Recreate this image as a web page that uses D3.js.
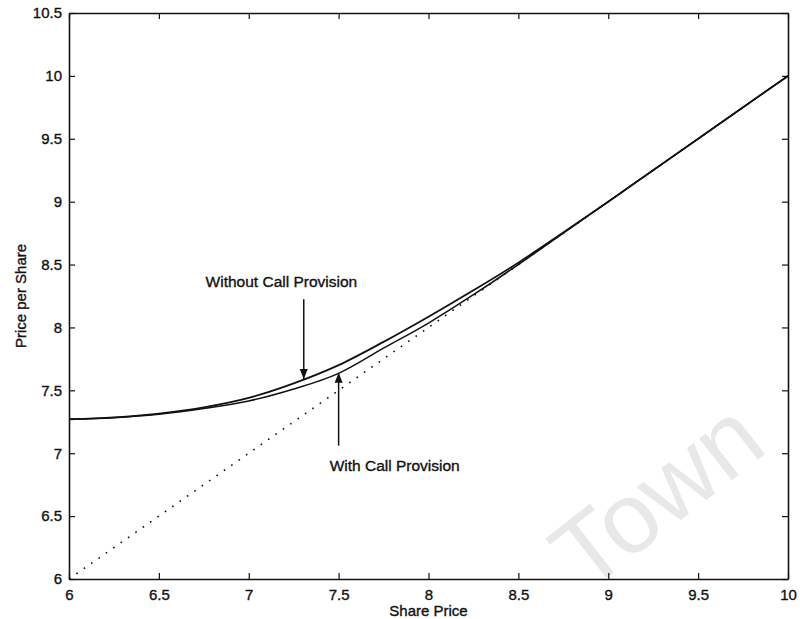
<!DOCTYPE html>
<html>
<head>
<meta charset="utf-8">
<script src="https://cdn.jsdelivr.net/npm/d3@7"></script>
<style>
  html, body { margin: 0; padding: 0; background: #fff; }
  svg { display: block; }
  text { font-family: "Liberation Sans", Arial, Helvetica, sans-serif; fill: #111; }
  .lbl { stroke: #111; stroke-width: 0.35px; }
</style>
</head>
<body>
<svg id="chart" width="800" height="619"></svg>
<script>
// ---- data ----
const sharePrice = [6, 6.25, 6.5, 6.75, 7, 7.25, 7.5, 7.75, 8, 8.25, 8.5, 8.75, 9, 9.25, 9.5, 9.75, 10];
const withoutCall = [7.27, 7.285, 7.315, 7.365, 7.44, 7.555, 7.70, 7.885, 8.085, 8.295, 8.515, 8.755, 9.0, 9.25, 9.5, 9.75, 10];
const withCall    = [7.27, 7.283, 7.31, 7.355, 7.415, 7.51, 7.635, 7.835, 8.035, 8.26, 8.5, 8.75, 9.0, 9.25, 9.5, 9.75, 10];
const conversion  = [6, 10];           // dotted line: value = share price
const xTicks = [6, 6.5, 7, 7.5, 8, 8.5, 9, 9.5, 10];
const yTicks = [6, 6.5, 7, 7.5, 8, 8.5, 9, 9.5, 10, 10.5];
const xTickLabels = ["6", "6.5", "7", "7.5", "8", "8.5", "9", "9.5", "10"];
const yTickLabels = ["6", "6.5", "7", "7.5", "8", "8.5", "9", "9.5", "10", "10.5"];

const svg = d3.select("#chart");
const margin = {left: 69, right: 12, top: 13, bottom: 40};
const W = 800, H = 619;
const x = d3.scaleLinear().domain([6, 10]).range([margin.left, W - margin.right]);
const y = d3.scaleLinear().domain([6, 10.5]).range([H - margin.bottom, margin.top]);

// watermark
svg.append("text")
  .attr("transform", "translate(586,594) rotate(-38)")
  .attr("font-size", 100)
  .style("fill", "#e8e8e8")
  .text("Town");

// axes
const fmtX = (d, i) => xTickLabels[i];
const fmtY = (d, i) => yTickLabels[i];
const axB = svg.append("g").attr("transform", `translate(0,${y(6)})`)
  .call(d3.axisBottom(x).tickValues(xTicks).tickFormat(fmtX).tickSizeInner(-6).tickSizeOuter(0).tickPadding(10));
const axL = svg.append("g").attr("transform", `translate(${x(6)},0)`)
  .call(d3.axisLeft(y).tickValues(yTicks).tickFormat(fmtY).tickSizeInner(-6).tickSizeOuter(0).tickPadding(7));
const axT = svg.append("g").attr("transform", `translate(0,${y(10.5)})`)
  .call(d3.axisTop(x).tickValues(xTicks).tickFormat("").tickSizeInner(-6).tickSizeOuter(0));
const axR = svg.append("g").attr("transform", `translate(${x(10)},0)`)
  .call(d3.axisRight(y).tickValues(yTicks).tickFormat("").tickSizeInner(-6).tickSizeOuter(0));
[axB, axL, axT, axR].forEach(g => {
  g.select(".domain").attr("stroke", "#111").attr("stroke-width", 1.6);
  g.selectAll(".tick line").attr("stroke", "#111").attr("stroke-width", 1.2);
  g.selectAll(".tick text").attr("font-size", 15).attr("class", "lbl")
    .style("font-family", "'Liberation Sans', Arial, sans-serif").attr("fill", "#111");
});

// axis titles
svg.append("text").attr("class", "lbl").attr("x", x(8)).attr("y", 616).attr("text-anchor", "middle")
  .attr("font-size", 15).text("Share Price");
svg.append("text").attr("class", "lbl").attr("transform", `translate(26,${(y(6) + y(10.5)) / 2}) rotate(-90)`)
  .attr("text-anchor", "middle").attr("font-size", 15).text("Price per Share");

// dotted conversion-value line
svg.append("path")
  .datum(conversion)
  .attr("d", d3.line().x(d => x(d)).y(d => y(d)))
  .attr("fill", "none").attr("stroke", "#111").attr("stroke-width", 1.6)
  .attr("stroke-dasharray", "1.6,7.4");

// curves
const mk = vals => d3.line().curve(d3.curveMonotoneX)
  .x((d, i) => x(sharePrice[i])).y(d => y(d))(vals);
svg.append("path").attr("d", mk(withCall))
  .attr("fill", "none").attr("stroke", "#111").attr("stroke-width", 1.5);
svg.append("path").attr("d", mk(withoutCall))
  .attr("fill", "none").attr("stroke", "#111").attr("stroke-width", 1.8);

// annotations
const defs = svg.append("defs");
defs.append("marker").attr("id", "ah").attr("viewBox", "0 0 10 10")
  .attr("refX", 10).attr("refY", 5).attr("markerWidth", 10).attr("markerHeight", 10)
  .attr("markerUnits", "userSpaceOnUse").attr("orient", "auto")
  .append("path").attr("d", "M0,1 L10,5 L0,9 Z").attr("fill", "#111");

svg.append("text").attr("class", "lbl").attr("x", x(6.76)).attr("y", y(8.32)).attr("font-size", 15.5).text("Without Call Provision");
svg.append("line").attr("x1", x(7.306)).attr("x2", x(7.306)).attr("y1", y(8.225)).attr("y2", y(7.59))
  .attr("stroke", "#111").attr("stroke-width", 1.5).attr("marker-end", "url(#ah)");

svg.append("text").attr("class", "lbl").attr("x", x(7.45)).attr("y", y(6.86)).attr("font-size", 15.5).text("With Call Provision");
svg.append("line").attr("x1", x(7.5)).attr("x2", x(7.5)).attr("y1", y(7.06)).attr("y2", y(7.64))
  .attr("stroke", "#111").attr("stroke-width", 1.5).attr("marker-end", "url(#ah)");
</script>
</body>
</html>
